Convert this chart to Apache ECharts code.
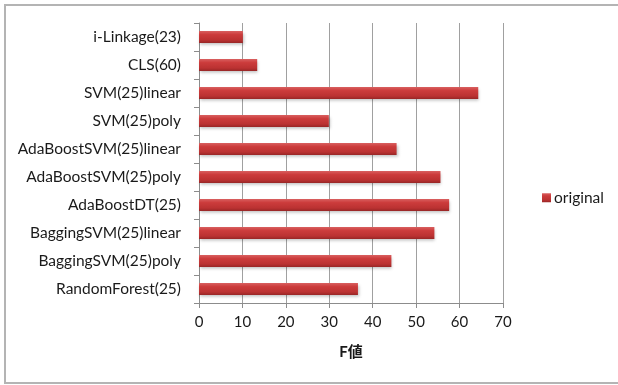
<!DOCTYPE html>
<html>
<head>
<meta charset="utf-8">
<script src="https://cdn.jsdelivr.net/npm/echarts@6/dist/echarts.min.js"></script>
<style>
  html, body { margin: 0; padding: 0; background: #fff; }
  #chart { width: 618px; height: 385px; }
</style>
</head>
<body>
<div id="chart"></div>
<script>
// Methods, listed top to bottom
const categories = [
  'i-Linkage(23)',
  'CLS(60)',
  'SVM(25)linear',
  'SVM(25)poly',
  'AdaBoostSVM(25)linear',
  'AdaBoostSVM(25)poly',
  'AdaBoostDT(25)',
  'BaggingSVM(25)linear',
  'BaggingSVM(25)poly',
  'RandomForest(25)'
];
// F-measure of each method
const originalValues = [10.1, 13.4, 64.3, 29.9, 45.5, 55.6, 57.6, 54.2, 44.3, 36.6];
const xTicks = [0, 10, 20, 30, 40, 50, 60, 70];

const labelFont = 'Lato, "Noto Sans CJK JP", sans-serif';
const chart = echarts.init(document.getElementById('chart'), null, { renderer: 'canvas' });

const barGradient = new echarts.graphic.LinearGradient(0, 0, 0, 1, [
  { offset: 0, color: '#d96060' },
  { offset: 0.3, color: '#cc3c3c' },
  { offset: 0.75, color: '#bb3232' },
  { offset: 1, color: '#982626' }
]);

chart.setOption({
  animation: false,
  backgroundColor: '#ffffff',
  graphic: [{
    type: 'rect',
    shape: { x: 5, y: 5, width: 660, height: 378 },
    style: { fill: 'none', stroke: '#b4b4b4', lineWidth: 2 },
    silent: true,
    z: -1
  }],
  grid: { left: 199, right: 115, top: 23, bottom: 82 },
  legend: {
    left: 537,
    top: 185,
    itemWidth: 9,
    itemHeight: 9,
    itemGap: 3,
    icon: 'rect',
    textStyle: { fontFamily: labelFont, fontSize: 15.5, color: '#1a1a1a', padding: [0, 0, 0, -2] },
    data: ['original']
  },
  xAxis: {
    type: 'value',
    min: xTicks[0],
    max: xTicks[xTicks.length - 1],
    interval: 10,
    name: 'F値',
    nameLocation: 'middle',
    nameGap: 42,
    nameTextStyle: { fontFamily: labelFont, fontSize: 15, fontWeight: 'bold', color: '#1a1a1a' },
    axisLine: { show: true, lineStyle: { color: '#8c8c8c', width: 1 } },
    axisTick: { show: true, length: 5, lineStyle: { color: '#8c8c8c' } },
    axisLabel: { fontFamily: labelFont, fontSize: 15, color: '#1a1a1a', margin: 12 },
    splitLine: { show: true, lineStyle: { color: '#a0a0a0', width: 1 } }
  },
  yAxis: {
    type: 'category',
    inverse: true,
    data: categories,
    axisLine: { show: true, lineStyle: { color: '#8c8c8c', width: 1 } },
    axisTick: { show: true, length: 5, alignWithLabel: false, lineStyle: { color: '#8c8c8c' } },
    axisLabel: { fontFamily: labelFont, fontSize: 15.5, color: '#1a1a1a', margin: 18 }
  },
  series: [{
    name: 'original',
    type: 'bar',
    data: originalValues,
    barWidth: 12,
    itemStyle: {
      color: barGradient,
      shadowColor: 'rgba(0,0,0,0.25)',
      shadowBlur: 3,
      shadowOffsetY: 1.5,
      shadowOffsetX: 1
    }
  }]
});
</script>
</body>
</html>
